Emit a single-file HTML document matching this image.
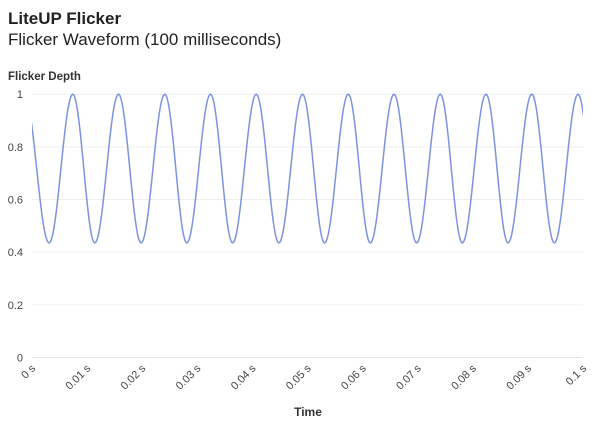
<!DOCTYPE html>
<html><head><meta charset="utf-8"><style>
body{margin:0;background:#fff;font-family:"Liberation Sans",sans-serif;}
</style></head><body>
<svg width="600" height="435" xmlns="http://www.w3.org/2000/svg" style="font-family:'Liberation Sans',sans-serif">
<text x="8" y="24" font-size="17" font-weight="bold" fill="#222">LiteUP Flicker</text>
<text x="8" y="45" font-size="17" fill="#222">Flicker Waveform (100 milliseconds)</text>
<text x="8" y="80" font-size="11.5" font-weight="bold" fill="#333">Flicker Depth</text>
<text x="308" y="416" font-size="12" font-weight="bold" fill="#333" text-anchor="middle">Time</text>
<defs><clipPath id="pc"><rect x="32" y="80" width="551" height="290"/></clipPath></defs>
<g id="grid"></g><g id="xt"></g>
<path id="wave" fill="none" stroke="#7b93e0" stroke-width="1.5" clip-path="url(#pc)"/>
</svg>
<script>
const yTicks=[0,0.2,0.4,0.6,0.8,1];
const yTickLabels=["0","0.2","0.4","0.6","0.8","1"];
const xTicks=[0,0.01,0.02,0.03,0.04,0.05,0.06,0.07,0.08,0.09,0.1];
const xTickLabels=["0 s","0.01 s","0.02 s","0.03 s","0.04 s","0.05 s","0.06 s","0.07 s","0.08 s","0.09 s","0.1 s"];
const extremaTimes=[-0.0014,0.0031,0.0074,0.0114,0.0157,0.0198,0.0241,0.0281,0.0324,0.0364,0.0407,0.0448,0.0491,0.0531,0.0574,0.0614,0.0657,0.0698,0.0741,0.0781,0.0824,0.0864,0.0907,0.0948,0.0991,0.1031];
const extremaValues=[1,0.435,1,0.435,1,0.435,1,0.435,1,0.435,1,0.435,1,0.435,1,0.435,1,0.435,1,0.435,1,0.435,1,0.435,1,0.435];
const NS='http://www.w3.org/2000/svg';
const x=t=>32+t/0.1*551;
const y=v=>357.5-v*263.3;
const grid=document.getElementById('grid');
yTicks.forEach((v,i)=>{
 const l=document.createElementNS(NS,'line');
 
 
 l.setAttribute('x1',32);l.setAttribute('x2',583);l.setAttribute('y1',y(v));l.setAttribute('y2',y(v));
 l.setAttribute('stroke',v===0?'#e4e4e4':'#efefef');l.setAttribute('stroke-width',1);
 grid.appendChild(l);
 const t=document.createElementNS(NS,'text');
 
 
 t.setAttribute('x',23);t.setAttribute('y',y(v)+4);t.setAttribute('text-anchor','end');
 t.setAttribute('font-size','11');t.setAttribute('fill','#444');t.textContent=yTickLabels[i];
 grid.appendChild(t);
});
const xt=document.getElementById('xt');
xTicks.forEach((v,i)=>{
 const t=document.createElementNS(NS,'text');
 
 
 const px=x(v)+4,py=369;
 t.setAttribute('x',px);t.setAttribute('y',py);t.setAttribute('text-anchor','end');
 t.setAttribute('transform','rotate(-45 '+px+' '+py+')');
 t.setAttribute('font-size','11');t.setAttribute('fill','#444');t.textContent=xTickLabels[i];
 xt.appendChild(t);
});
let d='';
for(let i=0;i<extremaTimes.length-1;i++){
 const t0=extremaTimes[i],t1=extremaTimes[i+1],v0=extremaValues[i],v1=extremaValues[i+1];
 for(let k=0;k<=20;k++){
  const f=k/20,t=t0+(t1-t0)*f,v=v0+(v1-v0)*(1-Math.cos(Math.PI*f))/2;
  d+=(d?'L':'M')+x(t).toFixed(2)+','+y(v).toFixed(2);
 }
}
document.getElementById('wave').setAttribute('d',d);
</script>
</body></html>
